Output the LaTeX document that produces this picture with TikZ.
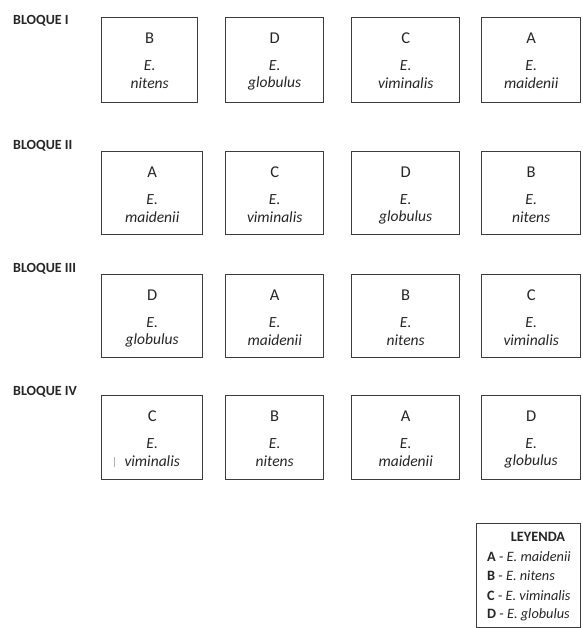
\documentclass[tikz,border=0pt]{standalone}
\usepackage{fontspec}
\setmainfont{Carlito}
\definecolor{boxgray}{HTML}{3C3C3C}
\definecolor{txtgray}{HTML}{262626}
\begin{document}
\begin{tikzpicture}[x=1pt,y=-1pt,
  plotbox/.style={draw=boxgray, line width=1.4pt, inner sep=0pt, anchor=north west},
  blocklabel/.style={anchor=west, inner sep=0pt, text=txtgray, font=\fontsize{14}{16}\selectfont\bfseries},
  lett/.style={inner sep=0pt, text=txtgray, font=\fontsize{16.5}{18}\selectfont},
  spec/.style={inner sep=0pt, text=txtgray, font=\fontsize{15.5}{17}\selectfont\itshape},
  legline/.style={anchor=west, inner sep=0pt, text=txtgray, font=\fontsize{14.3}{16}\selectfont}
]
\useasboundingbox (0,0) rectangle (582,628);
\fill[white] (0,0) rectangle (582,628);

\newcommand\plotbox[7]{%
  \node[plotbox, minimum width=#4pt, minimum height=#5pt] (#1) at (#2,#3) {};
  \node[lett] (#1l) at ([yshift=-21pt]#1.north) {#6};
  \node[spec] (#1e) at ([yshift=-49pt]#1.north) {E.};
  \node[spec] (#1s) at ([yshift=-66pt]#1.north) {#7};
}

% row labels
\node[blocklabel] (b1) at (13,21) {BLOQUE I};
\node[blocklabel] (b2) at (13,146) {BLOQUE II};
\node[blocklabel] (b3) at (13,269) {BLOQUE III};
\node[blocklabel] (b4) at (13,392) {BLOQUE IV};

% row 1
\plotbox{r1c1}{101}{17}{96}{85}{B}{nitens}
\plotbox{r1c2}{225}{17}{98}{85}{D}{globulus}
\plotbox{r1c3}{351}{17}{108}{85}{C}{viminalis}
\plotbox{r1c4}{481}{17}{99}{85}{A}{maidenii}
% row 2
\plotbox{r2c1}{101}{151}{101}{83}{A}{maidenii}
\plotbox{r2c2}{225}{151}{98}{83}{C}{viminalis}
\plotbox{r2c3}{351}{151}{108}{83}{D}{globulus}
\plotbox{r2c4}{481}{151}{99}{83}{B}{nitens}
% row 3
\plotbox{r3c1}{101}{274}{101}{83}{D}{globulus}
\plotbox{r3c2}{225}{274}{98}{83}{A}{maidenii}
\plotbox{r3c3}{351}{274}{108}{83}{B}{nitens}
\plotbox{r3c4}{481}{274}{99}{83}{C}{viminalis}
% row 4
\plotbox{r4c1}{101}{395}{101}{84}{C}{viminalis}
\plotbox{r4c2}{225}{395}{98}{84}{B}{nitens}
\plotbox{r4c3}{351}{395}{108}{84}{A}{maidenii}
\plotbox{r4c4}{481}{395}{99}{84}{D}{globulus}

% stray mark
\coordinate (m1) at (114,457);
\coordinate (m2) at (114,467);
\draw[gray!60, line width=0.8pt] (m1) -- (m2);

% legend
\node[plotbox, minimum width=104pt, minimum height=104pt] (leg) at (476,523) {};
\node[inner sep=0pt, text=txtgray, font=\fontsize{14.3}{16}\selectfont\bfseries] (legt) at (538,537) {LEYENDA};
\node[legline] (la) at (487,557) {\textbf{A} - \textit{E. maidenii}};
\node[legline] (lb) at (487,576) {\textbf{B} - \textit{E. nitens}};
\node[legline] (lc) at (487,596) {\textbf{C} - \textit{E. viminalis}};
\node[legline] (ld) at (487,615) {\textbf{D} - \textit{E. globulus}};
\end{tikzpicture}
\end{document}
